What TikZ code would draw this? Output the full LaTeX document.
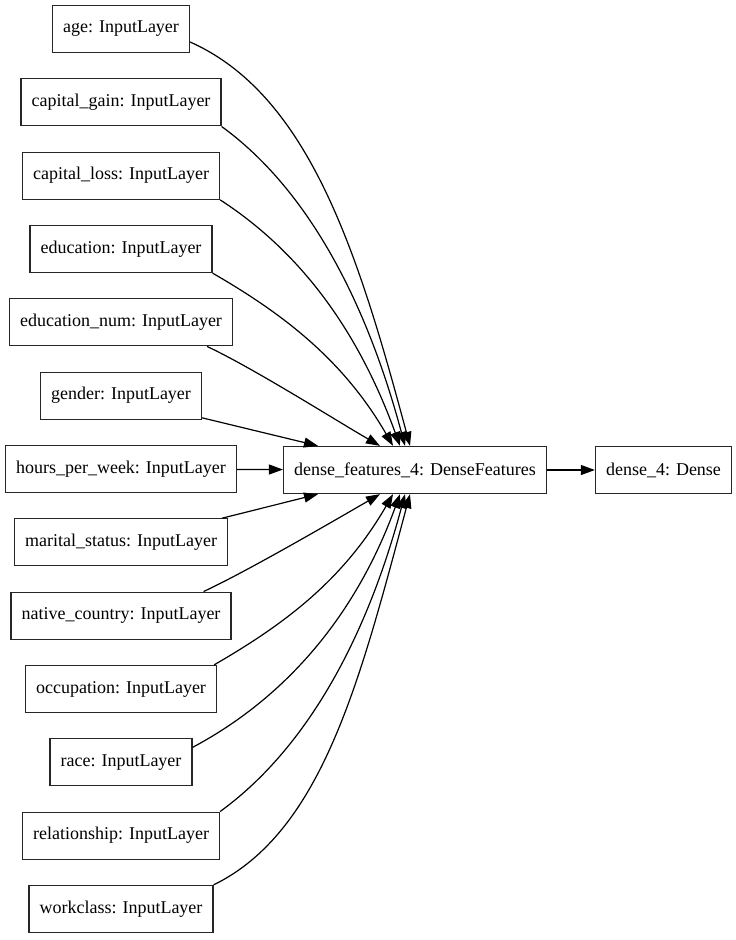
\documentclass[tikz,border=0pt]{standalone}
\usepackage{fontspec}
\setmainfont{Liberation Serif}
\usetikzlibrary{arrows.meta}
\begin{document}
\begin{tikzpicture}[x=1pt,y=1pt,
  layer/.style={draw=black!85, line width=1.3pt, rectangle, inner xsep=10.5pt, inner ysep=0pt,
    minimum height=47pt, font=\fontsize{18}{21}\selectfont},
  conn/.style={line width=1.2pt, -{Triangle[length=14pt,width=10pt]}}]
\useasboundingbox (0,0) rectangle (736,-940);
% input layers
\node[layer] (age)    at (121,-29)     {age: InputLayer};
\node[layer] (cgain)  at (121,-102.33) {capital\_gain: InputLayer};
\node[layer] (closs)  at (121,-175.67) {capital\_loss: InputLayer};
\node[layer] (edu)    at (121,-249)    {education: InputLayer};
\node[layer] (edunum) at (121,-322.33) {education\_num: InputLayer};
\node[layer] (gender) at (121,-395.67) {gender: InputLayer};
\node[layer] (hours)  at (121,-469)    {hours\_per\_week: InputLayer};
\node[layer] (marital) at (121,-542.33) {marital\_status: InputLayer};
\node[layer] (native) at (121,-615.67) {native\_country: InputLayer};
\node[layer] (occ)    at (121,-689)    {occupation: InputLayer};
\node[layer] (race)   at (121,-762.33) {race: InputLayer};
\node[layer] (rel)    at (121,-835.67) {relationship: InputLayer};
\node[layer] (work)   at (121,-909)    {workclass: InputLayer};
% dense
\node[layer] (df) at (415,-470) {dense\_features\_4: DenseFeatures};
\node[layer] (d4) at (663.5,-470) {dense\_4: Dense};
% upper connectors
\draw[conn] ([yshift=-13pt]age.east) to[out=-24,in=105,out distance=130pt,in distance=200pt] ([xshift=-5pt]df.north);
\draw[conn] (cgain.south east) to[out=-36,in=105,out distance=100pt,in distance=160pt] ([xshift=-10pt]df.north);
\draw[conn] (closs.south east) to[out=-33,in=110,out distance=90pt,in distance=130pt] ([xshift=-15pt]df.north);
\draw[conn] (edu.south east) to[out=-30,in=120,out distance=80pt,in distance=100pt] ([xshift=-22pt]df.north);
\draw[conn] ([xshift=-26pt]edunum.south east) to[out=-25,in=150,out distance=50pt,in distance=50pt] ([xshift=-35pt]df.north);
\draw[conn] ([yshift=2pt]gender.south east) -- ([xshift=-97pt]df.north);
\draw[conn] (hours) -- (df);
% lower connectors
\draw[conn] ([xshift=-6pt]marital.north east) -- ([xshift=-97pt]df.south);
\draw[conn] ([xshift=-28pt]native.north east) to[out=25,in=-150,out distance=50pt,in distance=50pt] ([xshift=-35pt]df.south);
\draw[conn] ([xshift=-3pt]occ.north east) to[out=30,in=-120,out distance=80pt,in distance=100pt] ([xshift=-22pt]df.south);
\draw[conn] ([yshift=15pt]race.east) to[out=28,in=-110,out distance=100pt,in distance=135pt] ([xshift=-15pt]df.south);
\draw[conn] (rel.north east) to[out=36,in=-105,out distance=100pt,in distance=160pt] ([xshift=-10pt]df.south);
\draw[conn] (work.north east) to[out=26,in=-105,out distance=120pt,in distance=195pt] ([xshift=-5pt]df.south);
% output
\draw[conn] (df) -- (d4);
\end{tikzpicture}
\end{document}
